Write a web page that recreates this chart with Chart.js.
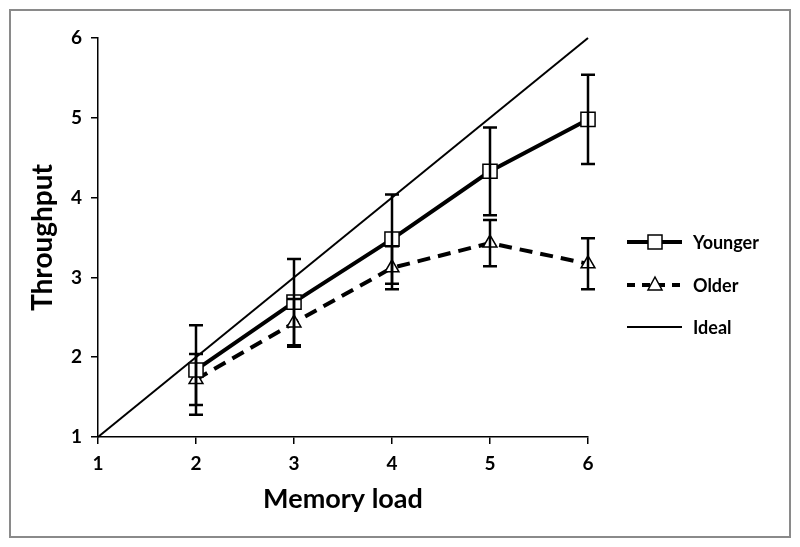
<!DOCTYPE html>
<html lang="en">
<head>
  <meta charset="UTF-8">
  <title>Throughput vs Memory load</title>
  <script src="https://cdn.jsdelivr.net/npm/chart.js"></script>
  <style>
    body { margin: 0; background: #ffffff; }
    .chart-container { position: relative; width: 800px; height: 547px; }
  </style>
</head>
<body>
  <div class="chart-container">
    <canvas id="throughputChart" width="800" height="547"></canvas>
  </div>

  <script>
    // Data
    const memoryLoad = [2, 3, 4, 5, 6];
    const youngerMean = [1.84, 2.69, 3.48, 4.33, 4.98];
    const youngerErr = [0.56, 0.54, 0.56, 0.55, 0.56];
    const olderMean = [1.72, 2.43, 3.12, 3.43, 3.17];
    const olderErr = [0.32, 0.30, 0.27, 0.29, 0.32];
    const idealLoad = [1, 6];
    const idealThroughput = [1, 6];
    const seriesNames = ['Younger', 'Older', 'Ideal'];

    const FONT = 'Lato, "Open Sans", sans-serif';

    const toPoints = (xs, ys) => xs.map((x, i) => ({ x: x, y: ys[i] }));

    // Error bars drawn through the chart scales
    const errorBarPlugin = {
      id: 'errorBars',
      afterDatasetsDraw: (chart) => {
        const { ctx, scales } = chart;
        const bars = [[youngerMean, youngerErr], [olderMean, olderErr]];
        ctx.save();
        ctx.strokeStyle = '#000';
        ctx.lineWidth = 2.5;
        bars.forEach(([means, errs]) => {
          memoryLoad.forEach((x, i) => {
            const px = scales.x.getPixelForValue(x);
            const top = scales.y.getPixelForValue(means[i] + errs[i]);
            const bot = scales.y.getPixelForValue(means[i] - errs[i]);
            ctx.beginPath();
            ctx.moveTo(px, top); ctx.lineTo(px, bot);
            ctx.moveTo(px - 7, top); ctx.lineTo(px + 7, top);
            ctx.moveTo(px - 7, bot); ctx.lineTo(px + 7, bot);
            ctx.stroke();
          });
        });
        ctx.restore();
      }
    };

    // Legend on the right plus the outer frame
    const legendPlugin = {
      id: 'sideLegend',
      afterDraw: (chart) => {
        const { ctx } = chart;
        ctx.save();
        ctx.strokeStyle = '#8a8a8a';
        ctx.lineWidth = 2;
        ctx.strokeRect(10, 10, 780, 527);

        const rows = [242, 285, 327];
        const x0 = 627, x1 = 682, xm = 655;
        ctx.strokeStyle = '#000';
        ctx.fillStyle = '#000';
        ctx.font = 'bold 18px ' + FONT;
        ctx.textBaseline = 'middle';
        rows.forEach((y, i) => {
          ctx.beginPath();
          ctx.lineWidth = i === 2 ? 2 : 4;
          if (i === 1) ctx.setLineDash([8, 7]); else ctx.setLineDash([]);
          ctx.moveTo(x0, y); ctx.lineTo(x1, y);
          ctx.stroke();
          ctx.setLineDash([]);
          ctx.lineWidth = 1.5;
          if (i === 0) {
            ctx.fillStyle = '#fff';
            ctx.fillRect(xm - 7, y - 7, 14, 14);
            ctx.strokeRect(xm - 7, y - 7, 14, 14);
          } else if (i === 1) {
            ctx.fillStyle = '#fff';
            ctx.beginPath();
            ctx.moveTo(xm, y - 8); ctx.lineTo(xm + 7, y + 5); ctx.lineTo(xm - 7, y + 5);
            ctx.closePath();
            ctx.fill(); ctx.stroke();
          }
          ctx.fillStyle = '#000';
          ctx.fillText(seriesNames[i], 693, y + 1);
        });
        ctx.restore();
      }
    };

    const ctx = document.getElementById('throughputChart').getContext('2d');
    new Chart(ctx, {
      type: 'line',
      data: {
        datasets: [
          {
            label: seriesNames[0],
            data: toPoints(memoryLoad, youngerMean),
            borderColor: '#000',
            borderWidth: 4,
            clip: false,
            pointStyle: 'rect',
            pointRadius: 10,
            pointBorderWidth: 1.5,
            pointBorderColor: '#000',
            pointBackgroundColor: '#fff',
          },
          {
            label: seriesNames[1],
            data: toPoints(memoryLoad, olderMean),
            borderColor: '#000',
            borderWidth: 4,
            borderDash: [13, 8],
            clip: false,
            pointStyle: 'triangle',
            pointRadius: 8,
            pointBorderWidth: 1.5,
            pointBorderColor: '#000',
            pointBackgroundColor: '#fff',
          },
          {
            label: seriesNames[2],
            data: toPoints(idealLoad, idealThroughput),
            borderColor: '#000',
            borderWidth: 2,
            clip: false,
            pointRadius: 0,
          }
        ]
      },
      options: {
        responsive: false,
        animation: false,
        events: [],
        layout: { padding: { left: 22, right: 212, top: 38, bottom: 28 } },
        plugins: { legend: { display: false }, tooltip: { enabled: false } },
        scales: {
          x: {
            type: 'linear',
            min: 1, max: 6,
            afterFit: (scale) => { scale.height = 82; },
            border: { color: '#000', width: 1.5 },
            grid: { drawOnChartArea: false, tickLength: 7, color: '#000', lineWidth: 1.5 },
            ticks: { stepSize: 1, color: '#000', padding: 8, font: { family: FONT, size: 19, weight: 'bold' } },
            title: { display: true, text: 'Memory load', color: '#000', padding: { top: 4, bottom: 4 }, font: { family: FONT, size: 27, weight: 'bold' } }
          },
          y: {
            min: 1, max: 6,
            afterFit: (scale) => { scale.width = 76; },
            border: { color: '#000', width: 1.5 },
            grid: { drawOnChartArea: false, tickLength: 7, color: '#000', lineWidth: 1.5 },
            ticks: { stepSize: 1, color: '#000', padding: 9, font: { family: FONT, size: 19, weight: 'bold' } },
            title: { display: true, text: 'Throughput', color: '#000', padding: { top: 4, bottom: 4 }, font: { family: FONT, size: 28, weight: 'bold' } }
          }
        }
      },
      plugins: [errorBarPlugin, legendPlugin]
    });
  </script>
</body>
</html>
